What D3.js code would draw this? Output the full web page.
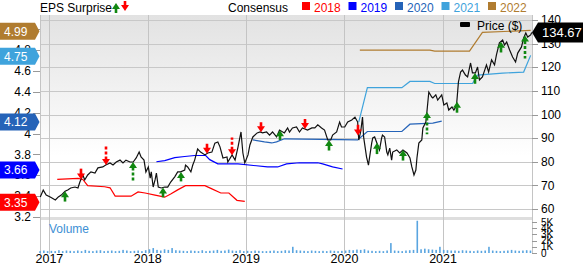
<!DOCTYPE html>
<html>
<head>
<meta charset="utf-8">
<script src="https://cdn.jsdelivr.net/npm/d3@7"></script>
<style>
body { margin: 0; background: #fff; }
svg { display: block; font-family: Arial, "Liberation Sans", sans-serif; }
</style>
</head>
<body>
<div id="chart"></div>
<script>

// ---------- data ----------
var priceDates = ["2016-11-28","2016-12-09","2016-12-20","2017-01-04","2017-01-23","2017-02-03","2017-02-14","2017-02-28","2017-03-10","2017-03-21",
  "2017-04-06","2017-04-17","2017-04-24","2017-05-05","2017-05-12","2017-05-23","2017-06-04","2017-06-19","2017-06-30","2017-07-18",
  "2017-07-29","2017-08-14","2017-08-25","2017-09-06","2017-09-20","2017-10-01","2017-10-12","2017-10-27","2017-11-08","2017-11-19",
  "2017-11-30","2017-12-07","2017-12-18","2017-12-25","2018-01-03","2018-01-10","2018-01-14","2018-01-21","2018-01-28","2018-02-02",
  "2018-02-09","2018-02-20","2018-03-05","2018-03-16","2018-03-27","2018-04-11","2018-04-22","2018-05-03","2018-05-18","2018-05-21",
  "2018-05-29","2018-06-10","2018-06-17","2018-06-24","2018-07-05","2018-07-16","2018-08-01","2018-08-12","2018-08-27","2018-09-07",
  "2018-09-18","2018-09-26","2018-10-07","2018-10-22","2018-10-25","2018-11-10","2018-11-21","2018-12-02","2018-12-13","2018-12-20",
  "2018-12-27","2019-01-08","2019-01-15","2019-01-26","2019-02-11","2019-02-22","2019-03-03","2019-03-18","2019-03-29","2019-04-09",
  "2019-04-24","2019-05-05","2019-05-23","2019-06-04","2019-06-11","2019-06-22","2019-07-07","2019-07-18","2019-07-29","2019-08-17",
  "2019-09-02","2019-09-13","2019-09-24","2019-10-08","2019-10-19","2019-10-31","2019-11-11","2019-11-18","2019-12-03","2019-12-14",
  "2019-12-21","2020-01-02","2020-01-13","2020-01-28","2020-02-09","2020-02-19","2020-02-23","2020-03-01","2020-03-08","2020-03-12",
  "2020-03-23","2020-03-30","2020-04-11","2020-04-15","2020-04-22","2020-05-03","2020-05-10","2020-05-18","2020-05-21","2020-05-29",
  "2020-06-06","2020-06-10","2020-06-17","2020-06-24","2020-06-28","2020-07-13","2020-07-24","2020-08-05","2020-08-20","2020-08-31",
  "2020-09-07","2020-09-15","2020-09-22","2020-09-26","2020-10-03","2020-10-14","2020-10-18","2020-10-29","2020-11-02","2020-11-09",
  "2020-11-20","2020-11-24","2020-12-05","2020-12-12","2020-12-27","2021-01-04","2021-01-15","2021-01-22","2021-02-03","2021-02-10",
  "2021-02-17","2021-02-20","2021-02-27","2021-03-07","2021-03-14","2021-03-25","2021-04-02","2021-04-13","2021-04-20","2021-05-01",
  "2021-05-09","2021-05-16","2021-05-27","2021-06-11","2021-06-19","2021-06-30","2021-07-11","2021-07-18","2021-07-29","2021-08-10",
  "2021-08-17","2021-08-25","2021-09-05","2021-09-16","2021-09-27","2021-10-05","2021-10-19","2021-10-27","2021-11-04","2021-11-11",
  "2021-11-22","2021-11-26"]
var priceValues = [65.1,68.0,65.9,65.1,63.8,65.1,65.9,67.5,68.0,68.9,
  69.3,68.9,71.4,74.4,72.3,74.4,75.7,75.2,77.4,77.8,
  78.6,79.5,78.6,79.9,80.7,79.5,80.7,79.9,79.9,81.6,
  84.1,82.0,80.7,75.7,77.8,73.1,75.7,69.3,72.3,75.2,
  69.3,68.9,69.3,69.3,71.4,73.6,75.7,75.7,76.5,78.6,
  77.8,75.7,78.6,80.7,85.4,84.1,82.9,83.7,84.1,87.9,
  88.4,86.3,81.6,82.0,79.9,82.9,80.7,86.3,92.6,83.7,
  79.5,82.9,87.1,90.5,92.2,92.6,92.2,92.6,91.3,92.6,
  90.5,93.4,92.2,94.3,92.6,94.3,94.7,92.6,94.3,93.4,
  94.3,94.3,95.6,94.3,93.4,89.2,89.2,91.3,92.6,96.8,
  94.7,94.7,96.8,97.7,98.9,96.8,89.2,92.6,98.9,90.5,
  82.0,78.6,87.9,90.1,90.5,87.1,85.0,90.1,91.3,90.5,
  84.1,82.9,85.8,80.7,84.1,85.0,83.7,85.0,83.7,81.6,
  77.8,74.4,76.5,81.6,87.9,89.2,94.3,96.8,101.1,109.5,
  107.4,107.0,108.3,106.1,108.3,104.0,104.9,101.9,103.2,101.9,
  103.2,104.0,113.8,118.0,118.8,116.7,115.9,121.8,117.6,117.6,
  120.1,114.6,115.9,121.0,118.0,123.1,121.0,125.2,130.3,131.5,
  129.4,130.7,127.3,124.3,122.2,126.0,128.6,132.4,134.5,132.8,
  133.7,134.67]

var cons2018Dates = ["2017-01-30","2017-04-17","2017-05-05","2017-05-23","2017-07-25","2017-08-14","2017-09-02","2017-10-31","2017-11-26","2017-12-22",
  "2018-01-28","2018-03-05","2018-03-27","2018-04-22","2018-05-21","2018-08-01","2018-08-27","2018-09-29","2018-10-29","2018-11-28","2018-12-27"]
var cons2018Values = [3.56,3.57,3.56,3.50,3.49,3.48,3.40,3.40,3.44,3.43,3.41,3.39,3.42,3.46,3.50,3.50,3.47,3.43,3.43,3.36,3.35]

var cons2019Dates = ["2018-02-02","2018-03-05","2018-04-11","2018-05-18","2018-06-24","2018-08-04","2018-08-19","2018-09-18","2018-12-02","2019-03-21",
  "2019-04-28","2019-05-31","2019-07-18","2019-09-24","2019-10-12","2019-11-18","2019-12-25"]
var cons2019Values = [3.73,3.74,3.77,3.78,3.79,3.79,3.75,3.71,3.71,3.68,3.68,3.71,3.72,3.72,3.71,3.68,3.66]

var cons2020Dates = ["2019-01-26","2019-03-10","2019-04-06","2019-04-24","2019-05-23","2020-02-19","2020-03-26","2020-04-04","2020-08-01","2020-08-31","2020-11-24","2020-12-27"]
var cons2020Values = [3.94,3.92,3.91,3.92,3.95,3.94,4.02,4.02,4.02,4.09,4.10,4.12]

var cons2021Dates = ["2020-02-23","2020-03-26","2020-08-01","2020-08-31","2020-11-13","2020-12-01","2021-04-20","2021-05-09","2021-08-10","2021-10-27","2021-11-22"]
var cons2021Values = [4.11,4.44,4.44,4.50,4.50,4.48,4.48,4.56,4.58,4.59,4.75]

var cons2022Dates = ["2020-02-27","2020-11-13","2020-12-01","2021-04-09","2021-05-27","2021-11-22"]
var cons2022Values = [4.80,4.80,4.79,4.79,4.97,4.99]

var consensusYears = ["2018","2019","2020","2021","2022"]
var consensusColors = ["#ff0000","#0000ff","#2563b8","#3fa3dc","#b07c30"]

// EPS surprise (%), sign gives direction
var surpriseDates = ["2017-02-28","2017-04-28","2017-07-29","2017-11-07","2018-02-27","2018-05-03","2018-08-08","2018-11-09","2019-02-25","2019-05-06",
  "2019-08-07","2019-11-04","2020-02-22","2020-04-30","2020-08-05","2020-11-02","2021-02-21","2021-05-01","2021-08-03","2021-10-31"]
var surprisePct = [2.9,-3.4,-11.8,10.2,2.5,2.2,-2.6,-9.6,-2.7,2.4,-2.6,3.1,-3.3,3.8,3.2,13.5,3.5,3.4,3.3,14.1]

// volume (thousands), every two weeks from volumeStart
var volumeStart = "2016-11-28"
var volumeValues = [0.3,0.4,0.3,0.35,0.3,0.45,0.3,0.4,0.35,0.3,
  0.4,0.3,0.5,0.35,0.3,0.4,0.45,0.3,0.35,0.4,
  0.3,0.35,0.5,0.4,0.3,0.35,0.4,0.3,0.45,0.6,
  0.8,0.5,0.4,0.6,0.5,0.8,0.45,0.4,0.35,0.3,
  0.4,0.35,0.3,0.45,0.3,0.35,0.4,0.5,0.35,0.4,
  0.55,0.4,0.35,0.45,0.3,0.35,0.3,0.4,0.35,0.3,
  0.3,0.35,0.4,0.3,0.35,0.45,0.4,1.0,0.45,0.4,
  0.35,0.3,0.4,0.35,0.3,0.35,0.3,0.4,0.35,0.3,
  0.35,0.4,0.5,0.45,0.55,0.5,0.6,0.4,0.35,0.3,
  0.35,0.3,0.4,1.6,0.4,0.35,0.3,0.4,0.45,0.5,
  5.2,0.6,0.7,0.6,0.55,0.5,1.0,0.5,0.45,0.4,
  0.4,0.35,0.45,0.4,0.35,0.3,0.4,0.35,0.4,1.0,
  0.4,0.35,0.3,0.35,0.4,0.5,0.4,0.35,0.4,0.45,0.4]

var yearTicks = ["2017","2018","2019","2020","2021"]
var volumeTicks = [0,1,2,3,4,5]

// ---------- setup ----------
var W = 583, H = 265
var plotL = 40, plotR = 532, plotT = 15, mainB = 217, volT = 220, volB = 254
var parseDate = d3.timeParse("%Y-%m-%d")

var x = d3.scaleTime().domain([parseDate("2016-11-27"), parseDate("2021-11-27")]).range([plotL, plotR])
var yPrice = d3.scaleLinear().domain([60, 140]).range([209, 20])
var yEps = d3.scaleLinear().domain([3.2, 5.0]).range([217, 29.3])
var yVol = d3.scaleLinear().domain([0, 5]).range([253, 222])
var arrowLen = d3.scaleLinear().domain([0, 15]).range([1, 18]).clamp(true)

var svg = d3.select("#chart").append("svg").attr("width", W).attr("height", H)

var defs = svg.append("defs")
var grad = defs.append("linearGradient").attr("id", "bg").attr("x1", 0).attr("y1", 0).attr("x2", 0).attr("y2", 1)
grad.append("stop").attr("offset", "0%").attr("stop-color", "#e2e2e2")
grad.append("stop").attr("offset", "70%").attr("stop-color", "#ffffff")

svg.append("rect").attr("x", plotL).attr("y", plotT).attr("width", plotR - plotL).attr("height", mainB - plotT).attr("fill", "url(#bg)")

// horizontal grid (price)
svg.append("g").selectAll("line").data(yPrice.ticks(8)).enter().append("line")
  .attr("x1", plotL).attr("x2", plotR)
  .attr("y1", function(d){ return Math.round(yPrice(d)) + 0.5 })
  .attr("y2", function(d){ return Math.round(yPrice(d)) + 0.5 })
  .attr("stroke", "#c8c8c8")

// separator between price and volume panes
svg.append("rect").attr("x", plotL).attr("y", mainB).attr("width", plotR - plotL).attr("height", 3).attr("fill", "#dedede")

// vertical grid (years)
svg.append("g").selectAll("line").data(yearTicks).enter().append("line")
  .attr("x1", function(d){ return Math.round(x(parseDate(d + "-01-01"))) + 0.5 })
  .attr("x2", function(d){ return Math.round(x(parseDate(d + "-01-01"))) + 0.5 })
  .attr("y1", plotT).attr("y2", volB)
  .attr("stroke", "#c4c4c4")

// borders
svg.append("line").attr("x1", plotL + 0.5).attr("x2", plotL + 0.5).attr("y1", plotT).attr("y2", volB).attr("stroke", "#c4c4c4")
svg.append("line").attr("x1", plotR + 0.5).attr("x2", plotR + 0.5).attr("y1", plotT).attr("y2", volB).attr("stroke", "#c4c4c4")

// volume bars
var vStart = parseDate(volumeStart)
svg.append("g").selectAll("rect").data(volumeValues).enter().append("rect")
  .attr("x", function(d, i){ return x(d3.timeDay.offset(vStart, i * 14)) - 1 })
  .attr("width", 1.6)
  .attr("y", function(d){ return yVol(d) })
  .attr("height", function(d){ return yVol(0) - yVol(d) })
  .attr("fill", "#5aa5e0")
svg.append("text").attr("x", 49).attr("y", 233).attr("font-size", 12).attr("fill", "#3d8fd4").text("Volume")

// consensus lines
var consDates = [cons2018Dates, cons2019Dates, cons2020Dates, cons2021Dates, cons2022Dates]
var consValues = [cons2018Values, cons2019Values, cons2020Values, cons2021Values, cons2022Values]
var epsLine = d3.line().x(function(d){ return x(d[0]) }).y(function(d){ return yEps(d[1]) })
consDates.forEach(function(dates, k){
  var pts = dates.map(function(d, i){ return [parseDate(d), consValues[k][i]] })
  svg.append("path").datum(pts).attr("d", epsLine)
    .attr("fill", "none").attr("stroke", consensusColors[k]).attr("stroke-width", 1.2)
})

// price line
var priceData = priceDates.map(function(d, i){ return [parseDate(d), priceValues[i]] })
var priceLine = d3.line().x(function(d){ return x(d[0]) }).y(function(d){ return yPrice(d[1]) })
svg.append("path").datum(priceData).attr("d", priceLine)
  .attr("fill", "none").attr("stroke", "#111").attr("stroke-width", 1.2)

function priceAt(date){
  var i = d3.bisector(function(d){ return d[0] }).left(priceData, date)
  if (i <= 0) return priceData[0][1]
  if (i >= priceData.length) return priceData[priceData.length - 1][1]
  var a = priceData[i - 1], b = priceData[i]
  var t = (date - a[0]) / (b[0] - a[0])
  return a[1] + t * (b[1] - a[1])
}

function drawArrow(g, cx, tipY, up, shaft, dashed, color){
  var s = up ? 1 : -1
  g.append("path")
    .attr("d", "M" + cx + "," + tipY + "L" + (cx - 4) + "," + (tipY + s * 6) + "L" + (cx + 4) + "," + (tipY + s * 6) + "Z")
    .attr("fill", color)
  g.append("line")
    .attr("x1", cx).attr("x2", cx)
    .attr("y1", tipY + s * 5.5).attr("y2", tipY + s * (6 + shaft))
    .attr("stroke", color).attr("stroke-width", 2.6)
    .attr("stroke-dasharray", dashed ? "3,2" : null)
}

// surprise arrows
var arrows = svg.append("g")
surpriseDates.forEach(function(d, i){
  var dt = parseDate(d)
  var up = surprisePct[i] > 0
  drawArrow(arrows, Math.round(x(dt)), yPrice(priceAt(dt)), up, arrowLen(Math.abs(surprisePct[i])),
    Math.abs(surprisePct[i]) >= 8, up ? "#118811" : "#ff0000")
})

// left EPS axis
var epsTicks = yEps.ticks(9)
var lAxis = svg.append("g").attr("font-size", 12)
lAxis.selectAll("line").data(epsTicks).enter().append("line")
  .attr("x1", 33).attr("x2", plotL).attr("y1", function(d){ return Math.round(yEps(d)) + 0.5 }).attr("y2", function(d){ return Math.round(yEps(d)) + 0.5 })
  .attr("stroke", "#999")
lAxis.selectAll("text").data(epsTicks).enter().append("text")
  .attr("x", 31).attr("y", function(d){ return yEps(d) }).attr("dy", "0.35em").attr("text-anchor", "end")
  .text(function(d){ return String(+d.toFixed(1)) })

// right price axis
var rAxis = svg.append("g").attr("font-size", 12)
rAxis.selectAll("line").data(yPrice.ticks(8)).enter().append("line")
  .attr("x1", plotR).attr("x2", plotR + 6).attr("y1", function(d){ return Math.round(yPrice(d)) + 0.5 }).attr("y2", function(d){ return Math.round(yPrice(d)) + 0.5 })
  .attr("stroke", "#999")
rAxis.selectAll("text").data(yPrice.ticks(8)).enter().append("text")
  .attr("x", 541).attr("y", function(d){ return yPrice(d) }).attr("dy", "0.35em")
  .text(function(d){ return d })

// volume axis (labels crowd together, as in the source chart)
var vAxis = svg.append("g").attr("font-size", 10)
vAxis.selectAll("line").data(volumeTicks).enter().append("line")
  .attr("x1", plotR).attr("x2", plotR + 5).attr("y1", function(d){ return Math.round(yVol(d)) + 0.5 }).attr("y2", function(d){ return Math.round(yVol(d)) + 0.5 })
  .attr("stroke", "#999")
vAxis.selectAll("text").data(volumeTicks).enter().append("text")
  .attr("x", 541).attr("y", function(d){ return yVol(d) }).attr("dy", "0.35em")
  .text(function(d){ return d === 0 ? "0" : d + "K" })

// x axis labels
svg.append("g").attr("font-size", 12.5).selectAll("text").data(yearTicks).enter().append("text")
  .attr("x", function(d){ return x(parseDate(d + "-01-01")) }).attr("y", 262.5).attr("text-anchor", "middle")
  .text(function(d){ return d })

// consensus value tags on the left
var tagOrder = [4, 3, 2, 1, 0]
tagOrder.forEach(function(k){
  var v = consValues[k][consValues[k].length - 1]
  var yc = yEps(v) + 1
  svg.append("path")
    .attr("d", "M0," + (yc - 8.5) + "L35," + (yc - 8.5) + "L39.5," + yc + "L35," + (yc + 8.5) + "L0," + (yc + 8.5) + "Z")
    .attr("fill", consensusColors[k])
  svg.append("text").attr("x", 4).attr("y", yc).attr("dy", "0.36em").attr("font-size", 12).attr("fill", "#fff")
    .text(v.toFixed(2))
})

// last price tag on the right
var lastPrice = priceValues[priceValues.length - 1]
var py = yPrice(lastPrice)
svg.append("path")
  .attr("d", "M" + plotR + "," + py + "L" + (plotR + 6) + "," + (py - 10) + "L" + W + "," + (py - 10) + "L" + W + "," + (py + 10) + "L" + (plotR + 6) + "," + (py + 10) + "Z")
  .attr("fill", "#000")
svg.append("text").attr("x", 542).attr("y", py).attr("dy", "0.36em").attr("font-size", 13).attr("fill", "#fff")
  .text(lastPrice.toFixed(2))

// legend row
svg.append("text").attr("x", 40).attr("y", 12).attr("font-size", 12).text("EPS Surprise")
drawArrow(svg, 116, 3, true, 4, false, "#118811")
drawArrow(svg, 125, 11, false, 4, false, "#ff0000")
svg.append("text").attr("x", 228).attr("y", 12).attr("font-size", 12).text("Consensus")
consensusYears.forEach(function(yr, k){
  var lx = 302 + k * 46.5
  svg.append("rect").attr("x", lx).attr("y", 2).attr("width", 8).attr("height", 8).attr("fill", consensusColors[k])
  svg.append("text").attr("x", lx + 12).attr("y", 12).attr("font-size", 12).attr("fill", consensusColors[k]).text(yr)
})

svg.append("rect").attr("x", 460).attr("y", 22).attr("width", 10).attr("height", 5).attr("rx", 1).attr("fill", "#000")
svg.append("text").attr("x", 477).attr("y", 29.5).attr("font-size", 12).text("Price ($)")

</script>
</body>
</html>
